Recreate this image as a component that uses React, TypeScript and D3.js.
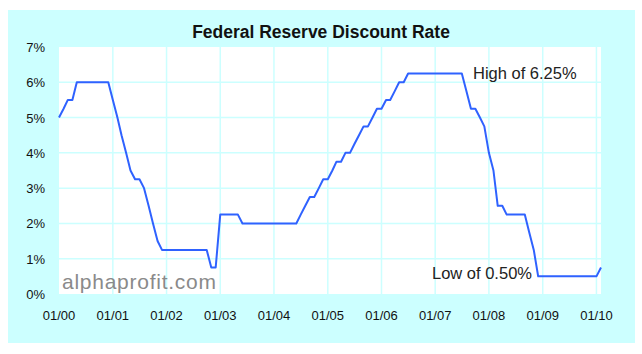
import React, { useEffect, useRef } from 'react';
import * as d3 from 'd3';

// monthly discount rate (%), Jan..Dec
const rates2000 = [5.0, 5.25, 5.5, 5.5, 6.0, 6.0, 6.0, 6.0, 6.0, 6.0, 6.0, 6.0];
const rates2001 = [5.5, 5.0, 4.5, 4.0, 3.5, 3.25, 3.25, 3.0, 2.5, 2.0, 1.5, 1.25];
const rates2002 = [1.25, 1.25, 1.25, 1.25, 1.25, 1.25, 1.25, 1.25, 1.25, 1.25, 0.75, 0.75];
const rates2003 = [2.25, 2.25, 2.25, 2.25, 2.25, 2.0, 2.0, 2.0, 2.0, 2.0, 2.0, 2.0];
const rates2004 = [2.0, 2.0, 2.0, 2.0, 2.0, 2.0, 2.25, 2.5, 2.75, 2.75, 3.0, 3.25];
const rates2005 = [3.25, 3.5, 3.75, 3.75, 4.0, 4.0, 4.25, 4.5, 4.75, 4.75, 5.0, 5.25];
const rates2006 = [5.25, 5.5, 5.5, 5.75, 6.0, 6.0, 6.25, 6.25, 6.25, 6.25, 6.25, 6.25];
const rates2007 = [6.25, 6.25, 6.25, 6.25, 6.25, 6.25, 6.25, 5.75, 5.25, 5.25, 5.0, 4.75];
const rates2008 = [4.0, 3.5, 2.5, 2.5, 2.25, 2.25, 2.25, 2.25, 2.25, 1.75, 1.25, 0.5];
const rates2009 = [0.5, 0.5, 0.5, 0.5, 0.5, 0.5, 0.5, 0.5, 0.5, 0.5, 0.5, 0.5];
const rates2010 = [0.5, 0.75];

const xTickLabels = ['01/00', '01/01', '01/02', '01/03', '01/04', '01/05', '01/06', '01/07', '01/08', '01/09', '01/10'];
const yTickValues = [0, 1, 2, 3, 4, 5, 6, 7];

const App: React.FC = () => {
  const svgRef = useRef<SVGSVGElement>(null);
  const width = 642;
  const height = 354;

  useEffect(() => {
    if (!svgRef.current) return;
    const svg = d3.select(svgRef.current);
    svg.selectAll('*').remove();

    const allRates = [
      ...rates2000, ...rates2001, ...rates2002, ...rates2003, ...rates2004,
      ...rates2005, ...rates2006, ...rates2007, ...rates2008, ...rates2009, ...rates2010
    ];
    const data = allRates.map((v, i) => ({ date: new Date(2000, i, 1), value: v }));

    const plot = { left: 59, right: 601, top: 47, bottom: 294 };
    const font = '"Liberation Sans", Arial, sans-serif';

    const x = d3.scaleTime()
      .domain([new Date(2000, 0, 1), new Date(2010, 1, 1)])
      .range([plot.left, plot.right]);
    const y = d3.scaleLinear().domain([0, 7]).range([plot.bottom, plot.top]);

    // cyan panel
    svg.append('rect')
      .attr('x', 8).attr('y', 10)
      .attr('width', 627).attr('height', 333)
      .attr('fill', '#ccffff');

    svg.append('rect')
      .attr('x', plot.left).attr('y', plot.top)
      .attr('width', plot.right - plot.left).attr('height', plot.bottom - plot.top)
      .attr('fill', '#ffffff');

    const tickDates = xTickLabels.map((_, i) => new Date(2000 + i, 0, 1));
    const grid = '#ccffff';

    // grid
    svg.append('g').selectAll('line')
      .data(yTickValues.slice(1, -1))
      .enter().append('line')
      .attr('x1', plot.left).attr('x2', plot.right)
      .attr('y1', d => y(d)).attr('y2', d => y(d))
      .attr('stroke', grid).attr('stroke-width', 1.5);

    svg.append('g').selectAll('line')
      .data(tickDates.slice(1))
      .enter().append('line')
      .attr('x1', d => x(d)).attr('x2', d => x(d))
      .attr('y1', plot.top).attr('y2', plot.bottom)
      .attr('stroke', grid).attr('stroke-width', 1.5);

    // watermark
    svg.append('text')
      .attr('x', 62).attr('y', 289)
      .attr('textLength', 154)
      .attr('lengthAdjust', 'spacing')
      .style('font-family', font)
      .style('font-size', '21px')
      .style('fill', '#8a8a8a')
      .text('alphaprofit.com');

    // line
    const line = d3.line<{ date: Date; value: number }>()
      .x(d => x(d.date))
      .y(d => y(d.value));

    svg.append('path')
      .datum(data)
      .attr('d', line)
      .attr('fill', 'none')
      .attr('stroke', '#2f62ff')
      .attr('stroke-width', 2)
      .attr('stroke-linejoin', 'round');

    // y axis labels
    svg.append('g').selectAll('text')
      .data(yTickValues)
      .enter().append('text')
      .attr('x', 45)
      .attr('y', d => y(d) + 5)
      .attr('text-anchor', 'end')
      .style('font-family', font)
      .style('font-size', '13px')
      .style('fill', '#111')
      .text(d => `${d}%`);

    // x axis labels
    svg.append('g').selectAll('text')
      .data(tickDates)
      .enter().append('text')
      .attr('x', d => x(d))
      .attr('y', 320)
      .attr('text-anchor', 'middle')
      .style('font-family', font)
      .style('font-size', '13px')
      .style('fill', '#111')
      .text((_, i) => xTickLabels[i]);

    // annotations
    svg.append('text')
      .attr('x', 473).attr('y', 79)
      .style('font-family', font)
      .style('font-size', '16.5px')
      .style('fill', '#222')
      .text('High of 6.25%');

    svg.append('text')
      .attr('x', 432).attr('y', 279)
      .style('font-family', font)
      .style('font-size', '16.5px')
      .style('fill', '#222')
      .text('Low of 0.50%');

    // title
    svg.append('text')
      .attr('x', 321).attr('y', 38)
      .attr('text-anchor', 'middle')
      .style('font-family', font)
      .style('font-size', '17.5px')
      .style('font-weight', 'bold')
      .style('fill', '#111')
      .text('Federal Reserve Discount Rate');
  }, []);

  return (
    <svg
      ref={svgRef}
      width={width}
      height={height}
      style={{ position: 'absolute', left: 0, top: 0, background: '#ffffff' }}
    />
  );
};

export default App;
